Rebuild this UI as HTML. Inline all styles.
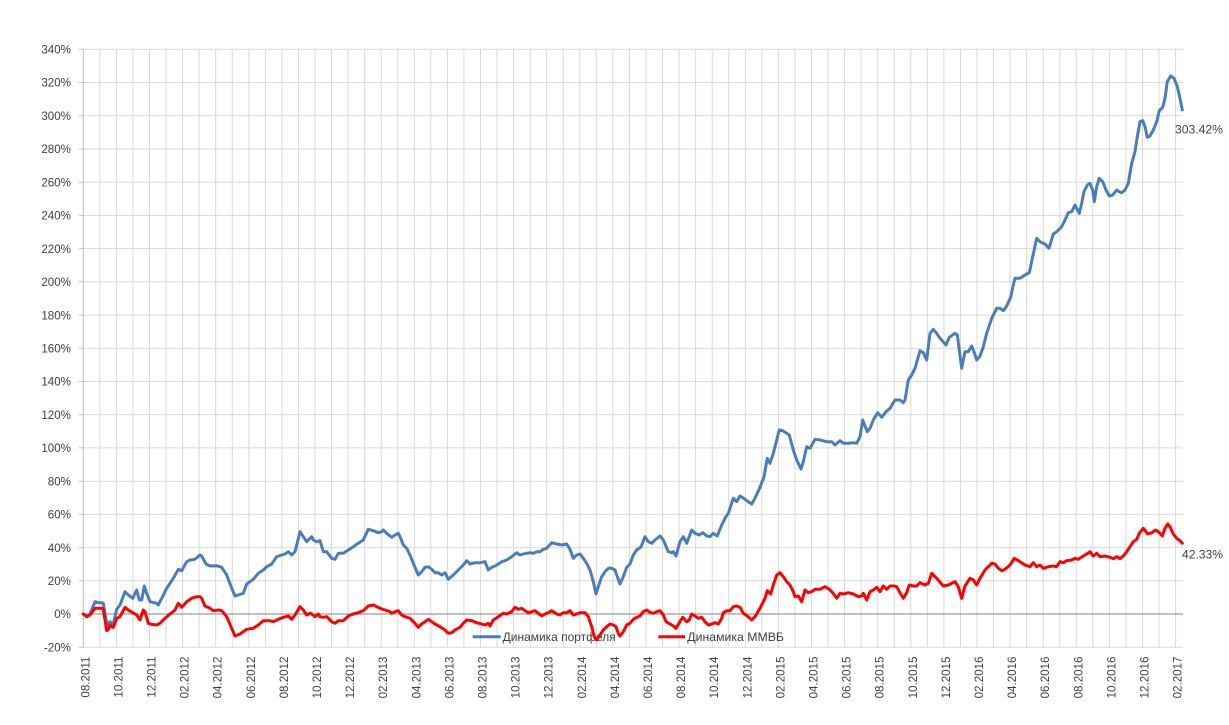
<!DOCTYPE html>
<html><head><meta charset="utf-8"><style>
html,body{margin:0;padding:0;background:#fff;}
svg{display:block;}
text{font-family:"Liberation Sans",Arial,sans-serif;fill:#404040;}
.yl{font-size:11.6px;text-anchor:end;}
.xl{font-size:11.6px;text-anchor:end;}
.lg{font-size:11.8px;}
.dl{font-size:11.8px;}
</style></head><body>
<svg width="1229" height="725" viewBox="0 0 1229 725" xmlns="http://www.w3.org/2000/svg">
<rect width="1229" height="725" fill="#fff"/>
<g stroke="#d9d9d9" stroke-width="1" fill="none">
<path d="M83.3 49.3H1183M83.3 82.5H1183M83.3 115.7H1183M83.3 149H1183M83.3 182.2H1183M83.3 215.4H1183M83.3 248.6H1183M83.3 281.8H1183M83.3 315.1H1183M83.3 348.3H1183M83.3 381.5H1183M83.3 414.7H1183M83.3 447.9H1183M83.3 481.2H1183M83.3 514.4H1183M83.3 547.6H1183M83.3 580.8H1183M83.3 647.3H1183"/>
<path d="M99.85 49.3V647.3M116.4 49.3V647.3M132.95 49.3V647.3M149.5 49.3V647.3M166.05 49.3V647.3M182.6 49.3V647.3M199.15 49.3V647.3M215.7 49.3V647.3M232.25 49.3V647.3M248.8 49.3V647.3M265.35 49.3V647.3M281.9 49.3V647.3M298.45 49.3V647.3M315 49.3V647.3M331.55 49.3V647.3M348.1 49.3V647.3M364.65 49.3V647.3M381.2 49.3V647.3M397.75 49.3V647.3M414.3 49.3V647.3M430.85 49.3V647.3M447.4 49.3V647.3M463.95 49.3V647.3M480.5 49.3V647.3M497.05 49.3V647.3M513.6 49.3V647.3M530.15 49.3V647.3M546.7 49.3V647.3M563.25 49.3V647.3M579.8 49.3V647.3M596.35 49.3V647.3M612.9 49.3V647.3M629.45 49.3V647.3M646 49.3V647.3M662.55 49.3V647.3M679.1 49.3V647.3M695.65 49.3V647.3M712.2 49.3V647.3M728.75 49.3V647.3M745.3 49.3V647.3M761.85 49.3V647.3M778.4 49.3V647.3M794.95 49.3V647.3M811.5 49.3V647.3M828.05 49.3V647.3M844.6 49.3V647.3M861.15 49.3V647.3M877.7 49.3V647.3M894.25 49.3V647.3M910.8 49.3V647.3M927.35 49.3V647.3M943.9 49.3V647.3M960.45 49.3V647.3M977 49.3V647.3M993.55 49.3V647.3M1010.1 49.3V647.3M1026.65 49.3V647.3M1043.2 49.3V647.3M1059.75 49.3V647.3M1076.3 49.3V647.3M1092.85 49.3V647.3M1109.4 49.3V647.3M1125.95 49.3V647.3M1142.5 49.3V647.3M1159.05 49.3V647.3M1175.6 49.3V647.3"/>
</g>
<g stroke="#bfbfbf" stroke-width="1" fill="none">
<path d="M83.3 49.3V647.3"/>
<path d="M79 49.3H83.3M79 82.5H83.3M79 115.7H83.3M79 149H83.3M79 182.2H83.3M79 215.4H83.3M79 248.6H83.3M79 281.8H83.3M79 315.1H83.3M79 348.3H83.3M79 381.5H83.3M79 414.7H83.3M79 447.9H83.3M79 481.2H83.3M79 514.4H83.3M79 547.6H83.3M79 580.8H83.3M79 614H83.3M79 647.3H83.3"/>
</g>
<path d="M83.3 614H1183" stroke="#9a9a9a" stroke-width="1.2" fill="none"/>

<!-- legend (under series) -->
<line x1="472.7" y1="636.7" x2="500.7" y2="636.7" stroke="#4a7ebb" stroke-width="3"/>
<text class="lg" x="502.7" y="640.8" textLength="113" lengthAdjust="spacingAndGlyphs">Динамика портфеля</text>
<line x1="658.3" y1="636.7" x2="685" y2="636.7" stroke="#ff0000" stroke-width="3"/>
<text class="lg" x="687.3" y="640.8" textLength="96.7" lengthAdjust="spacingAndGlyphs">Динамика ММВБ</text>

<!-- blue series -->
<polyline fill="none" stroke="#4a7ebb" stroke-width="3" stroke-linejoin="round" stroke-linecap="round" points="83.3,614 86.7,616 90,614 95,601.7 98.3,602.7 101.7,602.7 103.3,603.3 106,620 108.3,625 110,621.7 111.7,623.3 113.3,624 116.7,609.3 120,605 125,591.7 128.3,595 132.7,598.3 136.7,590 139.3,600 141.7,600 144.3,586 146.7,593.3 150,601.7 156.7,603.3 158.3,605 161.7,598.3 166.7,588.3 173.3,578.3 178.3,569.3 181.7,570.7 186.7,561.7 190,560 195,559.3 200,555 201.7,556 206,564 210,566 216.7,565.7 221.7,567.3 226.7,575 231.7,588.3 235,596 238.3,595 243.3,593.3 246.7,584 253.3,579.3 258.3,573.3 263.3,570 266.7,566.7 271.7,564 276.7,556.7 281.7,555 285,554 288.3,551.7 291.7,555 295,551.7 300,531.7 303.3,536.7 306.7,541.7 310,538.3 311.7,536.7 313.3,540 316.7,541.7 320,540.7 323.3,551.7 326.7,551.7 331.7,558.3 335,559.3 338.3,553.3 343.3,553.3 348.3,550 353.3,546.7 358.3,543.3 363.3,540 368.3,529.3 373.3,530.7 378.3,532.7 381.7,531.7 383.3,530 386.7,533.3 391.7,537.3 395,535 398.3,533.3 400,536.7 403.3,545 406.7,548.3 410,555 413.3,563.3 418.3,575 421.7,571.7 425,567.3 428.3,566.7 431.7,569.3 435,572.7 438.3,572.7 441.7,575 445,572.7 448.3,579.3 453.3,575 458.3,570 463.3,565 466.7,560.7 470,564 475,562.7 480,562.7 485,561.7 488.3,570 491.7,567.3 495,566 498.3,564 501.7,561.7 506.7,560 511.7,556.7 516.7,552.7 520,555 523.3,554 526.7,553.3 530,552.7 533.3,553.3 536.7,551.7 540,551.7 543.3,549.3 546.7,548.3 551.7,542.7 556.7,544 561.7,545 566.7,544 570,549.3 573.3,558.3 576.7,555 580,554 583.3,558.3 586.7,563.3 590,570 593.3,581.7 596,594 598.3,586.7 601.7,576.7 605,571.7 608.3,568.3 611.7,568.3 615,570 617.3,576.7 620,584 623.3,576.7 626.7,567.3 630,564 633.3,555 636.7,550 641,547 645,536.7 648.3,541.7 651.7,543.3 655,540 660,536 663.3,540 668.3,551.7 671.7,552.7 673.3,551.7 676,556 680,541.7 683.3,536.7 686.7,543.3 691.7,530 695,533.3 699.3,535 702.7,532.7 706.7,536 710,536.7 713.3,533.3 717.3,536 721.7,525 725,518.3 728.3,513.3 733.3,498.3 736.7,501.7 740,496 745,499.3 748.3,501.7 751.7,504 755,498.3 760,487.3 764,476.7 767.3,458.3 770,463.3 773.3,453.3 776.7,440 779.3,430 782.7,430.7 786.7,433.3 789.3,435 793.3,450 796.7,460 801,469 803.3,461.7 806.7,446.7 810,448.3 815,439.3 820,440 826.7,441.7 831.7,441.7 835,445 840,440.7 843.3,443.3 848.3,443.3 853.3,442.7 856.7,443.3 860,436.7 862.7,420 866,428.3 867.3,431.7 870,428.3 873.3,420 877.7,412.7 881.7,417.3 886,411.7 890,408.3 895,400 900,400 903.3,402.7 905,400 908.3,380 911.7,375 915,368.3 920,350.7 923.3,352.7 926.7,360 930,333.3 933.3,329.3 936.7,333.3 940,338.3 946,345 949.3,337.3 955,333.3 957.3,335 959.3,350 961.7,368.3 965,351.7 968.3,351.7 971.7,346 974,351.7 976.7,360 980,356 983.3,346.7 986.7,333.3 991.7,318.3 996.7,308.3 1000,308.3 1003.3,310.7 1006.7,306 1010.7,297.3 1013.3,285 1015,278.3 1020,278.3 1025,275 1029.3,272.7 1032.7,256.7 1036.7,238.3 1040,241.7 1045,244 1049,248.3 1053.3,234 1056.7,231.7 1061.7,226.7 1065,220 1068.3,212.7 1071.7,211.7 1075,205 1076.7,208.3 1079.3,213.3 1081.7,203.3 1084,191.7 1087.3,185 1090,183.3 1092.7,190 1094.3,201.7 1096.7,186.7 1099.3,178.3 1102.7,181.7 1106,190 1109.3,196 1112.7,195 1116.7,190 1119.3,191.7 1121.7,192.7 1125,190 1128.3,183.3 1131.7,163.3 1135,151.7 1137.3,136.7 1140,121.7 1142.7,120.7 1145,126.7 1147.3,137.3 1150,136 1153.3,130 1156.7,121.7 1159.3,110.7 1162.7,107.3 1165,98.3 1167.3,81.7 1170.7,76 1174,78.3 1177.3,86.7 1180,98.3 1182.3,110"/>

<!-- red series -->
<polyline fill="none" stroke="#ff0000" stroke-width="3" stroke-linejoin="round" stroke-linecap="round" points="83.3,614 86.7,616.7 90,615 95,608.3 98.3,608.3 101.7,608.3 103.3,609.3 106.7,630.7 108.3,629.3 110,625 111.7,626.7 113.3,627.3 116.7,618.3 120,616.7 125,607.3 128.3,610 132.7,612.7 136.7,615 140,620 143.3,610 145,611.7 148.3,623.3 151.7,624.3 156.7,625 160,623.3 165,618.3 170,614 175,610 178.3,603.3 181.7,607.3 186.7,601.7 191.7,598.3 196.7,596.7 200,596.7 201.7,598.3 205,606 210,608.3 213.3,610.7 218.3,610 221.7,610.7 226.7,616.7 231.7,628.3 235,636 240,634 246.7,629.3 253.3,628.3 258.3,625 263.3,620.7 270,620.7 273.3,621.7 278.3,619.3 283.3,617.3 288.3,616 291.7,619.3 295,615 300,606.7 303.3,610 306.7,615 310,613.3 311.7,614 315,616.7 318.3,614 320,616.7 323.3,617.3 326.7,616.7 331.7,621.7 335,623.3 338.3,620.7 343.3,620.7 348.3,616 353.3,614 358.3,612.7 363.3,610.7 368.3,606 373.3,605 376.7,606.7 380,608.3 385,610 390,611.7 391.7,613.3 395,611.7 398.3,610.7 401.7,615 405,616.7 410,618.3 415,623.3 418.3,627.3 421.7,624 425,621.7 428.3,619.3 431.7,621.7 435,624 440,626.7 445,630 448.3,633.3 451.7,632.7 455,630 460,627.3 463.3,623.3 466.7,620 471.7,620.7 476.7,622.7 481.7,624 485,625 488.3,623.3 490,626 493.3,620 498.3,616.7 503.3,613.3 506.7,614 511.7,611.7 515,607.3 518.3,609.3 521.7,608.3 525,610.7 528.3,612.7 531.7,611.7 535,610.7 538.3,613.3 541.7,616 545,614 548.3,612.7 551.7,610.7 556.7,614 560,615 563.3,612.7 566.7,612.7 570,610.7 573.3,615 576.7,614 580,612.7 585,612.7 588.3,616.7 591.7,626.7 594.3,636.7 596.7,640 600,635 603.3,630 606.7,626.7 610,624 613.3,625 616,626.7 618.3,633.3 620,636 623.3,631.7 626.7,625 630,623.3 633.3,619.3 636.7,617.3 640,616 643.3,611.7 646.7,610 650,612.3 653.3,613.3 656.7,611.7 660,610.7 663.3,615 666,621.7 670,624 673.3,626 676,628.3 679.3,622.7 682.7,617.3 686.7,621.7 689.3,620 691.7,614 695,616 698.3,618.3 701.7,617.3 705,621.7 708.3,625 711.7,624 715,622.7 718.3,624 721.7,618.3 723.3,612.7 726.7,610.7 730,610.7 733.3,606.7 736.7,606 740,607.3 743.3,613.3 747.3,616 751.7,620 755,616.7 760,608.3 765,598.3 767.3,590.7 770.7,594 773.3,585 776.7,575 780,572.7 783.3,576.7 786.7,581.7 790,585 793.3,591.7 795,596.7 798.3,596 801.7,601.7 805,590 808.3,592.7 811.7,591.7 815,589.3 820,589.3 825,586.7 829.3,589.3 832.7,592.7 836.7,598.3 840,593.3 844,594 848.3,592.7 853.3,594 858.3,596.7 861.7,596 863.3,593.3 866.7,600 870,591.7 873.3,590 876.7,587.3 880,591.7 883.3,586 886.7,589.3 890,586 894,586 896.7,586.7 900,592.7 903.3,598.3 906.7,592.7 909.3,585 913.3,586 916.7,586 920,582.7 925,585 928.3,583.3 931.7,573.3 936.7,578.3 943.3,586 948.3,585 955,581.7 958.3,586.7 961.7,598.3 965,586 970,578.3 973.3,580 976.7,585 980,578.3 985,570 991.7,563.3 995,564 998.3,568.3 1001.7,570.7 1005,569.3 1010,565 1014.3,558.3 1020,561.7 1025,565 1030,566.7 1033.3,562.7 1036.7,566.7 1040,565 1043.3,568.3 1048.3,566.7 1053.3,566 1056.7,566.7 1060,561.7 1063.3,562.7 1066.7,560.7 1071.7,560 1075,558.3 1078.3,559.3 1083.3,556 1086.7,554 1090,551.7 1093.3,556 1096.7,553.3 1100,556.7 1105,556 1110,557.3 1113.3,558.7 1116.7,556.7 1120,558.7 1123.3,556 1126.7,551.7 1130,546.7 1133.3,541.7 1136.7,539.3 1139.3,533.3 1143.3,528.3 1147.7,534 1151.7,532.7 1155.7,530 1158.3,531.7 1162.3,536 1165,528.3 1167.7,524 1170,526.7 1173.3,534 1176.7,538.3 1180,540.7 1182.3,543.3"/>

<!-- y labels -->
<g class="yl">
<text class="yl" x="71" y="53.5">340%</text>
<text class="yl" x="71" y="86.7">320%</text>
<text class="yl" x="71" y="119.9">300%</text>
<text class="yl" x="71" y="153.2">280%</text>
<text class="yl" x="71" y="186.4">260%</text>
<text class="yl" x="71" y="219.6">240%</text>
<text class="yl" x="71" y="252.8">220%</text>
<text class="yl" x="71" y="286">200%</text>
<text class="yl" x="71" y="319.3">180%</text>
<text class="yl" x="71" y="352.5">160%</text>
<text class="yl" x="71" y="385.7">140%</text>
<text class="yl" x="71" y="418.9">120%</text>
<text class="yl" x="71" y="452.1">100%</text>
<text class="yl" x="71" y="485.4">80%</text>
<text class="yl" x="71" y="518.6">60%</text>
<text class="yl" x="71" y="551.8">40%</text>
<text class="yl" x="71" y="585">20%</text>
<text class="yl" x="71" y="618.2">0%</text>
<text class="yl" x="71" y="651.5">-20%</text>
</g>

<!-- x labels -->
<g>
<text class="xl" transform="translate(89.3,656.5) rotate(-90)">08.2011</text>
<text class="xl" transform="translate(122.4,656.5) rotate(-90)">10.2011</text>
<text class="xl" transform="translate(155.5,656.5) rotate(-90)">12.2011</text>
<text class="xl" transform="translate(188.6,656.5) rotate(-90)">02.2012</text>
<text class="xl" transform="translate(221.7,656.5) rotate(-90)">04.2012</text>
<text class="xl" transform="translate(254.8,656.5) rotate(-90)">06.2012</text>
<text class="xl" transform="translate(287.9,656.5) rotate(-90)">08.2012</text>
<text class="xl" transform="translate(321,656.5) rotate(-90)">10.2012</text>
<text class="xl" transform="translate(354.1,656.5) rotate(-90)">12.2012</text>
<text class="xl" transform="translate(387.2,656.5) rotate(-90)">02.2013</text>
<text class="xl" transform="translate(420.3,656.5) rotate(-90)">04.2013</text>
<text class="xl" transform="translate(453.4,656.5) rotate(-90)">06.2013</text>
<text class="xl" transform="translate(486.5,656.5) rotate(-90)">08.2013</text>
<text class="xl" transform="translate(519.6,656.5) rotate(-90)">10.2013</text>
<text class="xl" transform="translate(552.7,656.5) rotate(-90)">12.2013</text>
<text class="xl" transform="translate(585.8,656.5) rotate(-90)">02.2014</text>
<text class="xl" transform="translate(618.9,656.5) rotate(-90)">04.2014</text>
<text class="xl" transform="translate(652,656.5) rotate(-90)">06.2014</text>
<text class="xl" transform="translate(685.1,656.5) rotate(-90)">08.2014</text>
<text class="xl" transform="translate(718.2,656.5) rotate(-90)">10.2014</text>
<text class="xl" transform="translate(751.3,656.5) rotate(-90)">12.2014</text>
<text class="xl" transform="translate(784.4,656.5) rotate(-90)">02.2015</text>
<text class="xl" transform="translate(817.5,656.5) rotate(-90)">04.2015</text>
<text class="xl" transform="translate(850.6,656.5) rotate(-90)">06.2015</text>
<text class="xl" transform="translate(883.7,656.5) rotate(-90)">08.2015</text>
<text class="xl" transform="translate(916.8,656.5) rotate(-90)">10.2015</text>
<text class="xl" transform="translate(949.9,656.5) rotate(-90)">12.2015</text>
<text class="xl" transform="translate(983,656.5) rotate(-90)">02.2016</text>
<text class="xl" transform="translate(1016.1,656.5) rotate(-90)">04.2016</text>
<text class="xl" transform="translate(1049.2,656.5) rotate(-90)">06.2016</text>
<text class="xl" transform="translate(1082.3,656.5) rotate(-90)">08.2016</text>
<text class="xl" transform="translate(1115.4,656.5) rotate(-90)">10.2016</text>
<text class="xl" transform="translate(1148.5,656.5) rotate(-90)">12.2016</text>
<text class="xl" transform="translate(1181.6,656.5) rotate(-90)">02.2017</text>
</g>

<!-- data labels -->
<text class="dl" x="1175" y="133.3" textLength="48" lengthAdjust="spacingAndGlyphs">303.42%</text>
<text class="dl" x="1182" y="558.3" textLength="41" lengthAdjust="spacingAndGlyphs">42.33%</text>
</svg>
</body></html>
